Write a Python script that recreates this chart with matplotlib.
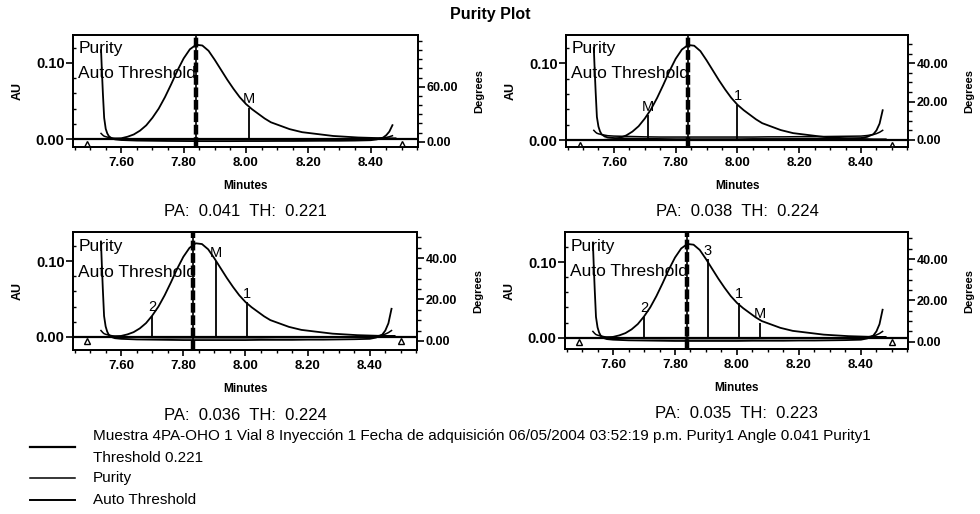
import matplotlib
matplotlib.use("Agg")
import matplotlib.pyplot as plt
from matplotlib.ticker import MultipleLocator, FormatStrFormatter
from matplotlib.lines import Line2D

plt.rcParams['font.family'] = ['Liberation Sans', 'DejaVu Sans']

# ---------------- data ----------------
chrom_time = [7.56, 7.58, 7.60, 7.62, 7.64, 7.66, 7.68, 7.70, 7.72, 7.74, 7.76, 7.78,
              7.80, 7.82, 7.84, 7.86, 7.88, 7.90, 7.92, 7.94, 7.96, 7.98, 8.00, 8.02,
              8.04, 8.06, 8.08, 8.10, 8.12, 8.14, 8.16, 8.18, 8.20, 8.24, 8.28, 8.32,
              8.36, 8.40, 8.44, 8.48]
chrom_au = [0.000, 0.0005, 0.001, 0.003, 0.006, 0.011, 0.018, 0.028, 0.040, 0.055, 0.072, 0.090,
            0.106, 0.118, 0.124, 0.123, 0.116, 0.104, 0.091, 0.078, 0.066, 0.055, 0.046, 0.039,
            0.033, 0.027, 0.022, 0.019, 0.016, 0.013, 0.011, 0.009, 0.008, 0.006, 0.004, 0.003,
            0.002, 0.0015, 0.001, 0.001]

purity_time = [7.535, 7.538, 7.541, 7.545, 7.55, 7.555, 7.56, 7.57, 7.58, 7.60, 7.65, 7.70,
               7.75, 7.80, 7.85, 7.90, 7.95, 8.00, 8.05, 8.10, 8.15, 8.20, 8.25, 8.30,
               8.35, 8.40, 8.42, 8.44, 8.45, 8.46, 8.47]
purity_angle_p1 = [100, 75, 52, 26, 14, 9, 6, 3.5, 2.5, 1.8, 1.2, 1.0,
                   0.8, 0.7, 0.6, 0.6, 0.6, 0.7, 0.7, 0.8, 0.8, 0.9, 1.0, 1.0,
                   1.2, 1.6, 2.5, 4.5, 7, 11, 18]
threshold_p1 = [9, 8, 7, 6, 5.5, 5, 4.5, 4, 3.6, 3.2, 2.8, 2.6,
                2.5, 2.4, 2.4, 2.4, 2.4, 2.4, 2.5, 2.5, 2.6, 2.6, 2.7, 2.8,
                2.9, 3.1, 3.4, 4.0, 4.6, 5.4, 6.5]
purity_angle_p234 = [48, 36, 25, 12, 7, 4.5, 3, 1.8, 1.3, 1.0, 0.7, 0.6,
                     0.5, 0.4, 0.4, 0.4, 0.4, 0.4, 0.5, 0.5, 0.5, 0.6, 0.6, 0.7,
                     0.8, 1.0, 1.6, 3.0, 5.0, 8.5, 15.5]
threshold_p234 = [5, 4.5, 4, 3.5, 3.2, 3.0, 2.8, 2.5, 2.2, 2.0, 1.8, 1.6,
                  1.5, 1.5, 1.5, 1.5, 1.5, 1.5, 1.5, 1.6, 1.6, 1.7, 1.7, 1.8,
                  1.9, 2.0, 2.3, 2.8, 3.3, 4.0, 5.0]

apex_time = [7.84, 7.84, 7.83, 7.84]
integration_marks = [7.49, 8.50]

marker_labels = [["M"], ["M", "1"], ["2", "M", "1"], ["2", "3", "1", "M"]]
marker_times = [[8.01], [7.71, 8.00], [7.70, 7.905, 8.005], [7.70, 7.905, 8.005, 8.075]]
marker_heights = [[0.041], [0.032, 0.046], [0.028, 0.100, 0.046], [0.028, 0.104, 0.046, 0.020]]

pa_values = ["0.041", "0.038", "0.036", "0.035"]
th_values = ["0.221", "0.224", "0.224", "0.223"]

au_ticks = [0.00, 0.10]
deg_ticks = [[0.0, 60.0], [0.0, 20.0, 40.0], [0.0, 20.0, 40.0], [0.0, 20.0, 40.0]]
time_ticks = [7.60, 7.80, 8.00, 8.20, 8.40]

legend_lines = ["Muestra 4PA-OHO 1 Vial 8 Inyección 1 Fecha de adquisición 06/05/2004 03:52:19 p.m. Purity1 Angle 0.041 Purity1",
                "Threshold 0.221", "Purity", "Auto Threshold"]

# ---------------- layout ----------------
W, H = 980, 514
fig = plt.figure(figsize=(W / 100, H / 100), dpi=100)

def fr(x0, y0, x1, y1):
    return [x0 / W, 1 - y1 / H, (x1 - x0) / W, (y1 - y0) / H]

rects = [fr(73, 35, 418, 147), fr(566, 35, 908, 147),
         fr(73, 232, 417, 350), fr(565, 232, 908, 349)]
au_lims = [(-0.0105, 0.1368), (-0.0091, 0.137), (-0.0177, 0.139), (-0.015, 0.1398)]
deg_lims = [(-5.8, 116.4), (-3.7, 54.8), (-4.4, 52.6), (-3.5, 53.1)]
deg_minor = [10, 5, 5, 5]
xlim = (7.445, 8.552)

fig.text(0.5, 1 - 15 / H, "Purity Plot", ha="center", va="center", fontsize=11.5, fontweight="bold")

for i, r in enumerate(rects):
    ax = fig.add_axes(r)
    ax2 = ax.twinx()
    ax.set_xlim(*xlim)
    ax.set_ylim(*au_lims[i])
    ax2.set_ylim(*deg_lims[i])
    for a in (ax, ax2):
        for s in a.spines.values():
            s.set_linewidth(1.3)
    # chromatogram
    ax.plot(chrom_time, chrom_au, color="black", lw=1.3)
    ax.axhline(0, color="black", lw=1.6)
    # purity curves
    pa = purity_angle_p1 if i == 0 else purity_angle_p234
    th = threshold_p1 if i == 0 else threshold_p234
    ax2.plot(purity_time, pa, color="black", lw=1.3)
    ax2.plot(purity_time, th, color="black", lw=1.1)
    # apex line
    ax.axvline(apex_time[i], color="black", lw=3.2, linestyle=(0, (2.2, 0.6)))
    ax.axvline(apex_time[i], color="black", lw=1.2)
    # markers
    for lab, t, h in zip(marker_labels[i], marker_times[i], marker_heights[i]):
        ax.vlines(t, 0, h, color="black", lw=1.3)
        ax.text(t, h + 0.002, lab, ha="center", va="bottom", fontsize=10.5)
    # integration marks
    ax.plot(integration_marks, [-0.006, -0.006], linestyle="none", marker="^",
            markersize=5, mfc="white", mec="black", mew=1.0)
    # labels inside
    ax.text(0.015, 0.88, "Purity", transform=ax.transAxes, ha="left", va="center", fontsize=12.5)
    ax.text(0.015, 0.66, "Auto Threshold", transform=ax.transAxes, ha="left", va="center", fontsize=12.5)
    # ticks
    ax.set_xticks(time_ticks)
    ax.xaxis.set_minor_locator(MultipleLocator(0.05))
    ax.xaxis.set_major_formatter(FormatStrFormatter("%.2f"))
    ax.set_yticks(au_ticks)
    ax.yaxis.set_minor_locator(MultipleLocator(0.02))
    ax.yaxis.set_major_formatter(FormatStrFormatter("%.2f"))
    ax2.set_yticks(deg_ticks[i])
    ax2.yaxis.set_minor_locator(MultipleLocator(deg_minor[i]))
    ax2.yaxis.set_major_formatter(FormatStrFormatter("%.2f"))
    ax.tick_params(axis="x", which="major", length=4, width=1.2, pad=3, labelsize=9.5)
    ax.tick_params(axis="x", which="minor", length=2.5, width=1.0)
    ax.tick_params(axis="y", which="major", length=5, width=1.2, pad=1, labelsize=10.5)
    ax.tick_params(axis="y", which="minor", length=2.5, width=1.0, direction="in")
    ax2.tick_params(axis="y", which="major", length=5, width=1.2, pad=1, labelsize=9)
    ax2.tick_params(axis="y", which="minor", length=3, width=1.0)
    for lbl in ax.get_xticklabels() + ax.get_yticklabels() + ax2.get_yticklabels():
        lbl.set_fontweight("bold")
    ax.set_xlabel("Minutes", fontsize=8.5, fontweight="bold", labelpad=8)
    ax.set_ylabel("AU", fontsize=9, fontweight="bold", labelpad=9)
    ax2.set_ylabel("Degrees", fontsize=8, fontweight="bold", labelpad=12)
    ax.set_zorder(ax2.get_zorder() + 1)
    ax.patch.set_visible(False)
    # PA / TH
    cx = r[0] + r[2] / 2
    ytxt = r[1] - 65 / H
    fig.text(cx, ytxt, f"PA:  {pa_values[i]}  TH:  {th_values[i]}", ha="center", va="center", fontsize=12)

# legend block
leg_y_text = [436, 458, 478, 500]
leg_y_line = [447, 478, 500]
for s, y in zip(legend_lines, leg_y_text):
    fig.text(93 / W, 1 - y / H, s, ha="left", va="center", fontsize=11)
for y, lw in zip(leg_y_line, [1.6, 1.1, 1.4]):
    fig.add_artist(Line2D([30 / W, 75 / W], [1 - y / H, 1 - y / H], color="black", lw=lw,
                          transform=fig.transFigure))

fig.savefig("out.png", dpi=100)
